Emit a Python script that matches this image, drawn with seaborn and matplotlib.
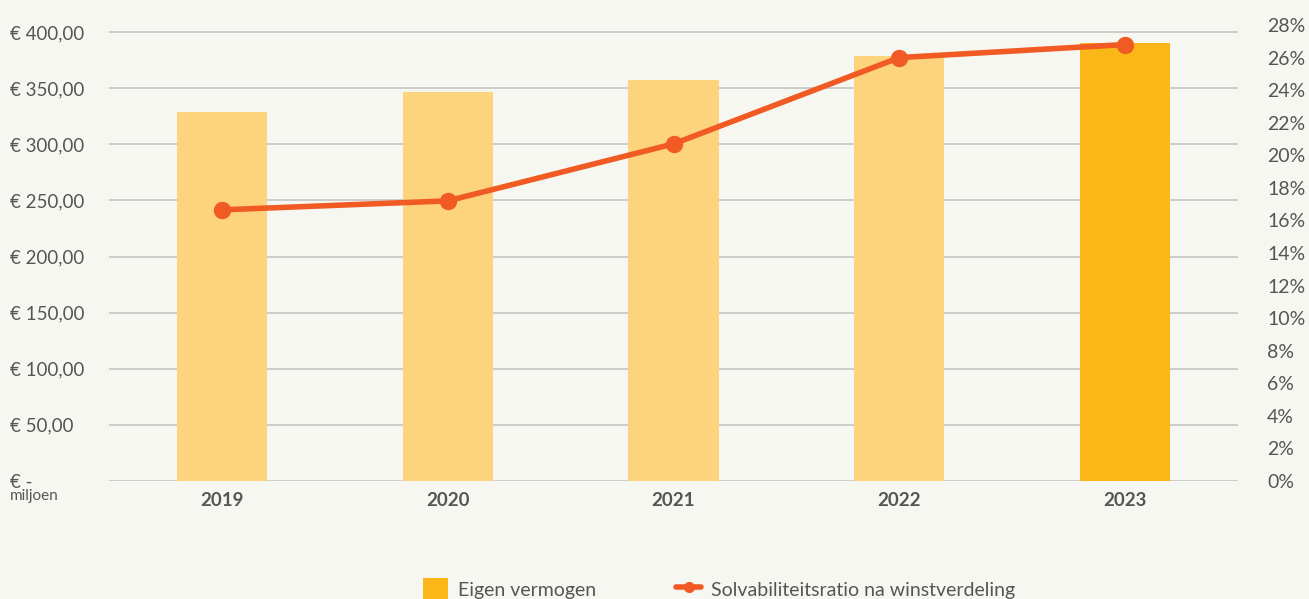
import matplotlib
matplotlib.use("Agg")
import matplotlib.pyplot as plt
import seaborn as sns
import pandas as pd
import numpy as np
from matplotlib.patches import Patch
from matplotlib.lines import Line2D

years = ["2019", "2020", "2021", "2022", "2023"]
eigen_vermogen = [329, 346.5, 357, 378.5, 390]
solvabiliteit = [0.1665, 0.172, 0.207, 0.260, 0.268]
left_ticks = [0, 50, 100, 150, 200, 250, 300, 350, 400]
left_labels = ["€ -", "€ 50,00", "€ 100,00", "€ 150,00", "€ 200,00", "€ 250,00", "€ 300,00", "€ 350,00", "€ 400,00"]
right_ticks = [i / 100 for i in range(0, 29, 2)]
right_labels = [f"{i}%" for i in range(0, 29, 2)]

BG = "#F7F7F2"
BAR_LIGHT = "#FDD37E"
BAR_DARK = "#FBB618"
LINE = "#F15A22"
TXT = "#555555"
GRID = "#C9C9C9"

sns.set_theme(style="white")
plt.rcParams["font.family"] = ["Lato", "DejaVu Sans"]

fig = plt.figure(figsize=(13.09, 5.99), dpi=100, facecolor=BG)
ax = fig.add_axes([109/1309, 1-481/599, (1238-109)/1309, (481-25)/599])
ax.set_facecolor(BG)

df = pd.DataFrame({"jaar": years, "ev": eigen_vermogen, "ratio": solvabiliteit})
palette = {y: (BAR_DARK if y == "2023" else BAR_LIGHT) for y in years}
sns.barplot(data=df, x="jaar", y="ev", hue="jaar", palette=palette, width=0.4,
            legend=False, ax=ax, saturation=1, zorder=2, linewidth=0, edgecolor="none")

ax.set_ylim(0, 400 * 456 / 449)
ax.set_xlim(-0.5, 4.5)
ax.set_yticks(left_ticks)
ax.set_yticklabels(left_labels)
ax.yaxis.grid(True, color=GRID, linewidth=1.3, zorder=0)
ax.set_axisbelow(True)
ax.tick_params(axis="y", length=0, pad=71, labelsize=13.5, labelcolor=TXT)
for lab in ax.get_yticklabels():
    lab.set_horizontalalignment("left")
ax.tick_params(axis="x", length=0, pad=8, labelsize=13.5, labelcolor=TXT)
for lab in ax.get_xticklabels():
    lab.set_fontweight("bold")
ax.set_xlabel("")
ax.set_ylabel("")
for s in ax.spines.values():
    s.set_visible(False)

ax.text(10/1309, 1-496/599, "miljoen", transform=fig.transFigure, fontsize=11,
        color=TXT, ha="left", va="center")

ax2 = ax.twinx()
sns.pointplot(data=df, x="jaar", y="ratio", color=LINE, ax=ax2, markers="o",
              markersize=9.5, linewidth=4, zorder=5)
ax2.set_ylim(0, 0.28)
ax2.set_xlim(-0.5, 4.5)
ax2.set_yticks(right_ticks)
ax2.set_yticklabels(right_labels)
ax2.tick_params(axis="y", length=0, pad=21, labelsize=14, labelcolor=TXT)
ax2.set_ylabel("")
ax2.set_xlabel("")
for s in ax2.spines.values():
    s.set_visible(False)

handles = [Patch(facecolor=BAR_DARK, edgecolor="none"),
           Line2D([0], [0], color=LINE, linewidth=4, marker="o", markersize=7)]
fig.legend(handles, ["Eigen vermogen", "Solvabiliteitsratio na winstverdeling"],
           loc="center", bbox_to_anchor=(719/1309, 1-590/599), ncol=2, frameon=False,
           fontsize=14, labelcolor=TXT, columnspacing=4.1, handlelength=1.3,
           handleheight=1.6, handletextpad=0.5)

fig.savefig("out.png", dpi=100, facecolor=BG)
